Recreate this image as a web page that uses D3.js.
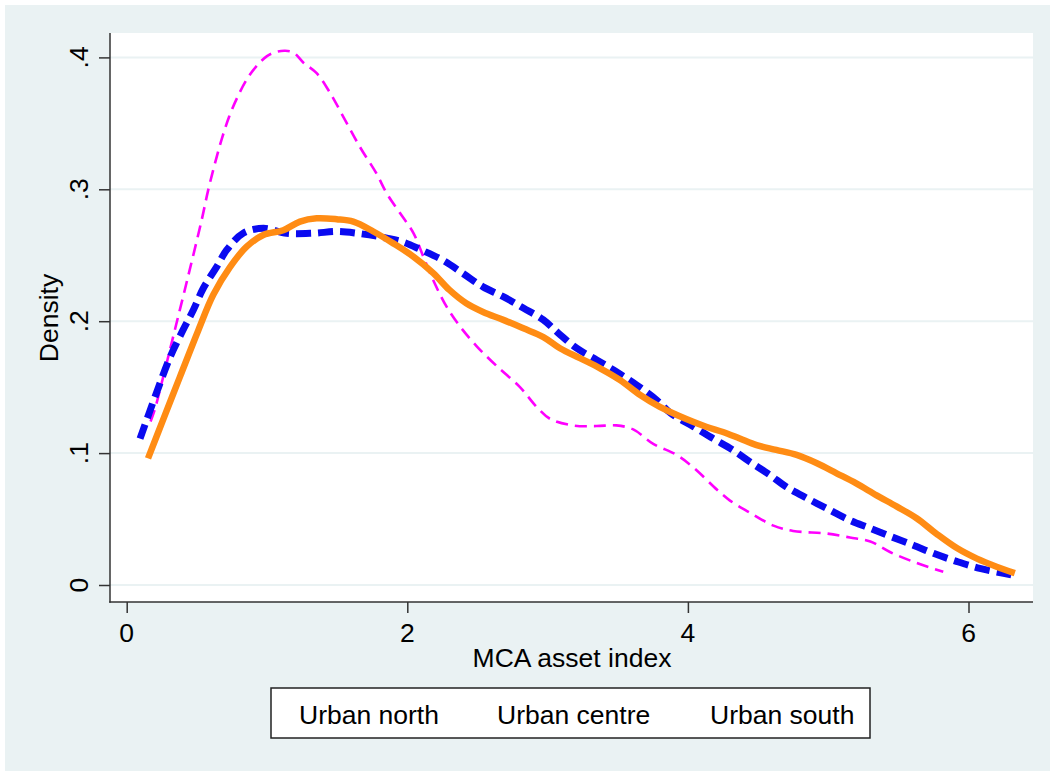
<!DOCTYPE html>
<html>
<head>
<meta charset="utf-8">
<script src="https://cdn.jsdelivr.net/npm/d3@7"></script>
<style>
  html, body { margin: 0; padding: 0; background: #ffffff; }
  svg { display: block; }
  text { font-family: "Liberation Sans", Arial, Helvetica, sans-serif; fill: #000; }
</style>
</head>
<body>
<svg id="chart" width="1050" height="771"></svg>
<script>
// ---------------- DATA ----------------
const categories = ["Urban north", "Urban centre", "Urban south"];

const northX = [0.17,0.20,0.27,0.34,0.44,0.535,0.58,0.63,0.68,0.73,0.79,0.86,0.93,1.0,1.06,1.13,1.19,1.26,1.354,1.45,1.544,1.663,1.78,1.853,1.948,2.043,2.114,2.185,2.28,2.376,2.495,2.637,2.803,2.922,3.017,3.18,3.35,3.49,3.61,3.753,3.92,4.04,4.21,4.30,4.44,4.61,4.75,4.99,5.155,5.30,5.44,5.63,5.82];
const northY = [0.124,0.133,0.162,0.192,0.235,0.277,0.299,0.320,0.339,0.355,0.370,0.384,0.394,0.401,0.404,0.405,0.4036,0.396,0.388,0.373,0.355,0.332,0.312,0.297,0.282,0.267,0.249,0.231,0.211,0.196,0.181,0.166,0.150,0.135,0.126,0.121,0.1205,0.121,0.118,0.107,0.0986,0.089,0.072,0.064,0.055,0.045,0.041,0.039,0.036,0.033,0.025,0.0167,0.010];

const centreX = [0.095,0.21,0.31,0.40,0.475,0.546,0.64,0.713,0.83,0.974,1.14,1.33,1.497,1.64,1.805,1.97,2.10,2.257,2.40,2.54,2.684,2.827,2.97,3.076,3.207,3.35,3.49,3.635,3.78,3.88,4.04,4.18,4.32,4.44,4.585,4.70,4.85,5.01,5.155,5.30,5.45,5.61,5.75,5.92,6.08,6.25,6.35];
const centreY = [0.111,0.145,0.173,0.193,0.2085,0.225,0.241,0.254,0.2667,0.2704,0.2667,0.2667,0.268,0.2667,0.264,0.260,0.254,0.246,0.236,0.226,0.2186,0.210,0.201,0.191,0.1795,0.1706,0.1617,0.1516,0.140,0.130,0.120,0.111,0.1024,0.0935,0.0834,0.0745,0.0657,0.0569,0.049,0.043,0.0366,0.030,0.024,0.0177,0.0126,0.0089,0.0068];

const southX = [0.152,0.273,0.38,0.51,0.617,0.736,0.855,0.974,1.116,1.235,1.354,1.497,1.615,1.758,1.90,2.043,2.185,2.30,2.42,2.54,2.684,2.827,2.97,3.088,3.23,3.374,3.516,3.66,3.80,3.93,4.13,4.25,4.37,4.49,4.63,4.775,4.92,5.06,5.20,5.345,5.49,5.63,5.77,5.92,6.06,6.20,6.33];
const southY = [0.096,0.129,0.158,0.193,0.220,0.241,0.2565,0.2654,0.269,0.2755,0.278,0.2773,0.2755,0.268,0.259,0.249,0.2365,0.2237,0.2136,0.207,0.201,0.1946,0.188,0.1795,0.172,0.1643,0.1554,0.144,0.135,0.1285,0.120,0.116,0.111,0.106,0.1024,0.0986,0.0923,0.0847,0.077,0.068,0.0594,0.0506,0.039,0.0278,0.020,0.0139,0.009];

const xTicks = [0, 2, 4, 6];
const xTickLabels = ["0", "2", "4", "6"];
const yTicks = [0, 0.1, 0.2, 0.3, 0.4];
const yTickLabels = ["0", ".1", ".2", ".3", ".4"];
const xTitle = "MCA asset index";
const yTitle = "Density";

// ---------------- LAYOUT ----------------
const svg = d3.select("#chart");
const bg = "#eaf2f3";
const plotL = 110, plotR = 1033, plotT = 33, plotB = 602;
const FS = 26.5;

const x = d3.scaleLinear().domain([0, 6]).range([126.7, 968.5]);
const y = d3.scaleLinear().domain([0, 0.4]).range([585, 57.4]);

// graph region
svg.append("rect").attr("x", 5).attr("y", 5).attr("width", 1045).attr("height", 766).attr("fill", bg);
// plot region
svg.append("rect").attr("x", plotL).attr("y", plotT).attr("width", plotR - plotL).attr("height", plotB - plotT).attr("fill", "#ffffff");

// gridlines
svg.append("g").selectAll("line").data(yTicks).join("line")
  .attr("x1", plotL).attr("x2", plotR)
  .attr("y1", d => y(d)).attr("y2", d => y(d))
  .attr("stroke", bg).attr("stroke-width", 2);

// curves
const series = [
  { name: categories[0], xs: northX, ys: northY, color: "#ff00ff", width: 2.6, dash: "12,7" },
  { name: categories[1], xs: centreX, ys: centreY, color: "#0a0af0", width: 7, dash: "15,7" },
  { name: categories[2], xs: southX, ys: southY, color: "#ff8c14", width: 6.5, dash: null }
];
const line = d3.line().x(d => x(d[0])).y(d => y(d[1])).curve(d3.curveCatmullRom.alpha(0.5));
const clip = svg.append("clipPath").attr("id", "clip").append("rect")
  .attr("x", plotL).attr("y", plotT).attr("width", plotR - plotL).attr("height", plotB - plotT);
const gLines = svg.append("g").attr("clip-path", "url(#clip)");
series.forEach(s => {
  const pts = s.xs.map((v, i) => [v, s.ys[i]]);
  gLines.append("path").datum(pts)
    .attr("d", line)
    .attr("fill", "none")
    .attr("stroke", s.color)
    .attr("stroke-width", s.width)
    .attr("stroke-linejoin", "round")
    .attr("stroke-dasharray", s.dash);
});

// axes
const axisColor = "#333333";
const yAxis = d3.axisLeft(y).tickValues(yTicks).tickFormat((d, i) => yTickLabels[i]).tickSize(11).tickPadding(10);
const gy = svg.append("g").attr("transform", `translate(${plotL},0)`).call(yAxis);
gy.select(".domain").remove();
gy.selectAll(".tick line").attr("stroke", axisColor).attr("stroke-width", 1.5);
gy.selectAll(".tick text").remove();
svg.append("line").attr("x1", plotL).attr("x2", plotL).attr("y1", plotT).attr("y2", plotB + 0.75)
  .attr("stroke", axisColor).attr("stroke-width", 1.5);

svg.append("g").selectAll("text").data(yTicks).join("text")
  .attr("transform", d => `translate(88,${y(d)}) rotate(-90)`)
  .attr("text-anchor", "middle")
  .attr("font-size", FS)
  .text((d, i) => yTickLabels[i]);

const xAxis = d3.axisBottom(x).tickValues(xTicks).tickFormat((d, i) => xTickLabels[i]).tickSize(11);
const gx = svg.append("g").attr("transform", `translate(0,${plotB})`).call(xAxis);
gx.select(".domain").remove();
gx.selectAll(".tick line").attr("stroke", axisColor).attr("stroke-width", 1.5);
gx.selectAll(".tick text").remove();
svg.append("line").attr("x1", plotL - 0.75).attr("x2", plotR).attr("y1", plotB).attr("y2", plotB)
  .attr("stroke", axisColor).attr("stroke-width", 1.5);

svg.append("g").selectAll("text").data(xTicks).join("text")
  .attr("x", d => x(d)).attr("y", 642)
  .attr("text-anchor", "middle")
  .attr("font-size", FS)
  .text((d, i) => xTickLabels[i]);

// axis titles
svg.append("text").attr("x", 572).attr("y", 667).attr("text-anchor", "middle").attr("font-size", FS).text(xTitle);
svg.append("text").attr("transform", "translate(57.5,318) rotate(-90)").attr("text-anchor", "middle").attr("font-size", FS).text(yTitle);

// legend (labels only)
svg.append("rect").attr("x", 271).attr("y", 688).attr("width", 599).attr("height", 50)
  .attr("fill", "#ffffff").attr("stroke", "#222").attr("stroke-width", 1.5);
const legendX = [299, 497, 710];
svg.append("g").selectAll("text").data(categories).join("text")
  .attr("x", (d, i) => legendX[i]).attr("y", 724)
  .attr("font-size", FS)
  .text(d => d);
</script>
</body>
</html>
